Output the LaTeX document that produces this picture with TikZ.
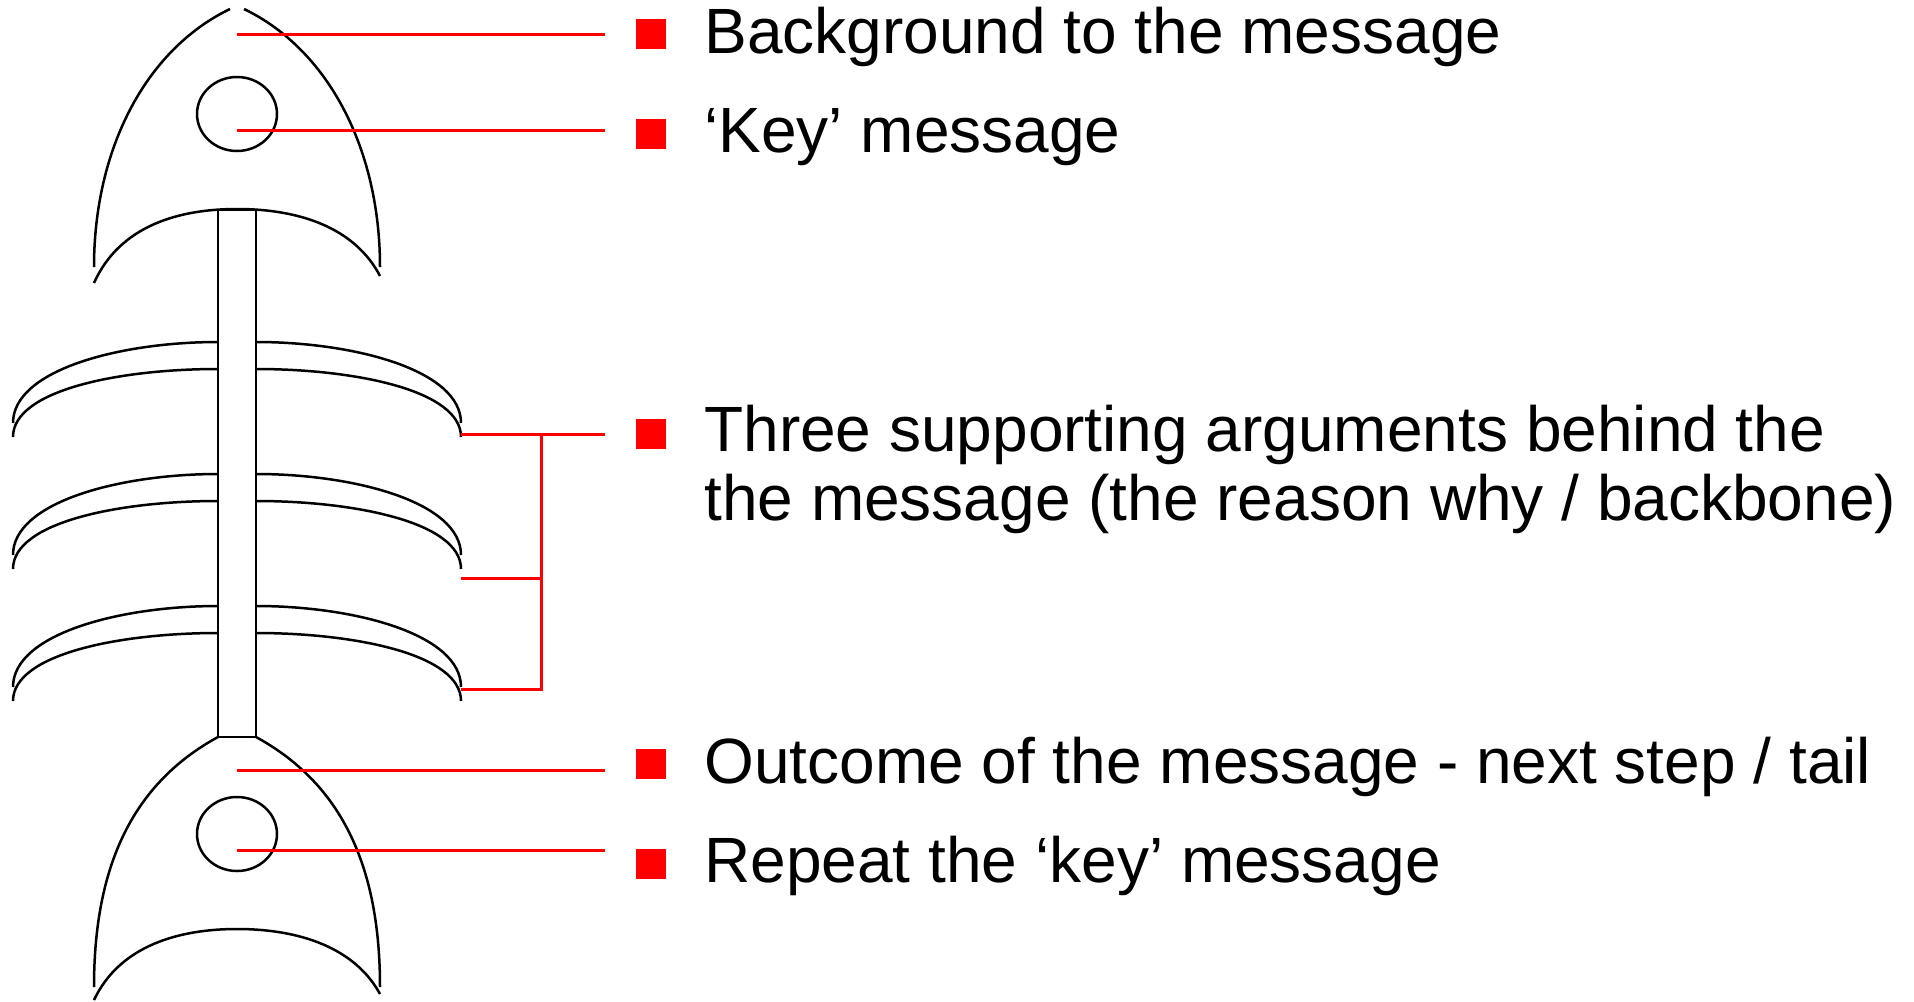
\documentclass[tikz,border=0pt]{standalone}
\usepackage{fontspec}
\setmainfont{Liberation Sans}
\usetikzlibrary{calc}

\begin{document}
\begin{tikzpicture}[x=0.5pt,y=-0.5pt,
    bone/.style={line width=1.25pt,black},
    pointer/.style={line width=1.5pt,red},
    bullet/.style={fill=red,inner sep=0pt,minimum size=15pt},
    msg/.style={anchor=base west,inner sep=0pt,align=left,
                font=\fontsize{32}{34.5}\selectfont}]
  \useasboundingbox (0,0) rectangle (1914,1001);

  % head with its eye
  \draw[bone] (230,9) .. controls (145,50) and (94,150) .. (94,267);
  \draw[bone] (244,9) .. controls (329,50) and (380,150) .. (380,267);
  \draw[bone] (94,283) .. controls (120,225) and (180,209) .. (237,209)
                       .. controls (300,209) and (355,228) .. (380,276);
  \draw[bone] (237,114) ellipse [x radius=40, y radius=37];

  % backbone
  \draw[bone] (218,210) rectangle (256,737);

  % three pairs of ribs
  \foreach \y in {342,474,606}{
    \draw[bone] (218,\y) .. controls (120,\y) and (13,\y+28) .. (13,\y+81);
    \draw[bone] (218,\y+27) .. controls (120,\y+27) and (13,\y+48) .. (13,\y+95);
    \draw[bone] (256,\y) .. controls (354,\y) and (461,\y+28) .. (461,\y+81);
    \draw[bone] (256,\y+27) .. controls (354,\y+27) and (461,\y+48) .. (461,\y+95);
  }

  % tail with its eye
  \draw[bone] (218,737) .. controls (130,785) and (94,870) .. (94,987);
  \draw[bone] (256,737) .. controls (344,785) and (380,870) .. (380,987);
  \draw[bone] (94,1000) .. controls (120,945) and (180,929) .. (237,929)
                        .. controls (300,929) and (355,948) .. (380,994);
  \draw[bone] (237,834) ellipse [x radius=40, y radius=37];

  % points on the fish
  \coordinate (head) at (237,34);
  \coordinate (eye) at (237,130);
  \coordinate (rib1) at (461,434);
  \coordinate (rib2) at (461,578);
  \coordinate (rib3) at (461,689);
  \coordinate (fork) at (541,434);
  \coordinate (tail) at (237,770);
  \coordinate (taileye) at (237,850);

  % line ends
  \coordinate (e1) at (605,34);
  \coordinate (e2) at (605,130);
  \coordinate (e3) at (605,434);
  \coordinate (e4) at (605,770);
  \coordinate (e5) at (605,850);

  % bullets and texts (base of t3 is its second line)
  \node[bullet] (b1) at (651,34) {};
  \node[bullet] (b2) at (651,134) {};
  \node[bullet] (b3) at (651,434) {};
  \node[bullet] (b4) at (651,764) {};
  \node[bullet] (b5) at (651,864) {};
  \node[msg] (t1) at (704,53) {Background to the message};
  \node[msg] (t2) at (704,152.5) {‘Key’ message};
  \node[msg] (t3) at (704,520) {Three supporting arguments behind the\\the message (the reason why / backbone)};
  \node[msg] (t4) at (704,783) {Outcome of the message - next step / tail};
  \node[msg] (t5) at (704,882.5) {Repeat the ‘key’ message};

  % red pointers
  \draw[pointer] (head) -- (e1);
  \draw[pointer] (eye) -- (e2);
  \draw[pointer] (rib1) -- (e3);
  \draw[pointer] (rib2) -| (fork);
  \draw[pointer] (rib3) -| (fork);
  \draw[pointer] (tail) -- (e4);
  \draw[pointer] (taileye) -- (e5);
\end{tikzpicture}
\end{document}
